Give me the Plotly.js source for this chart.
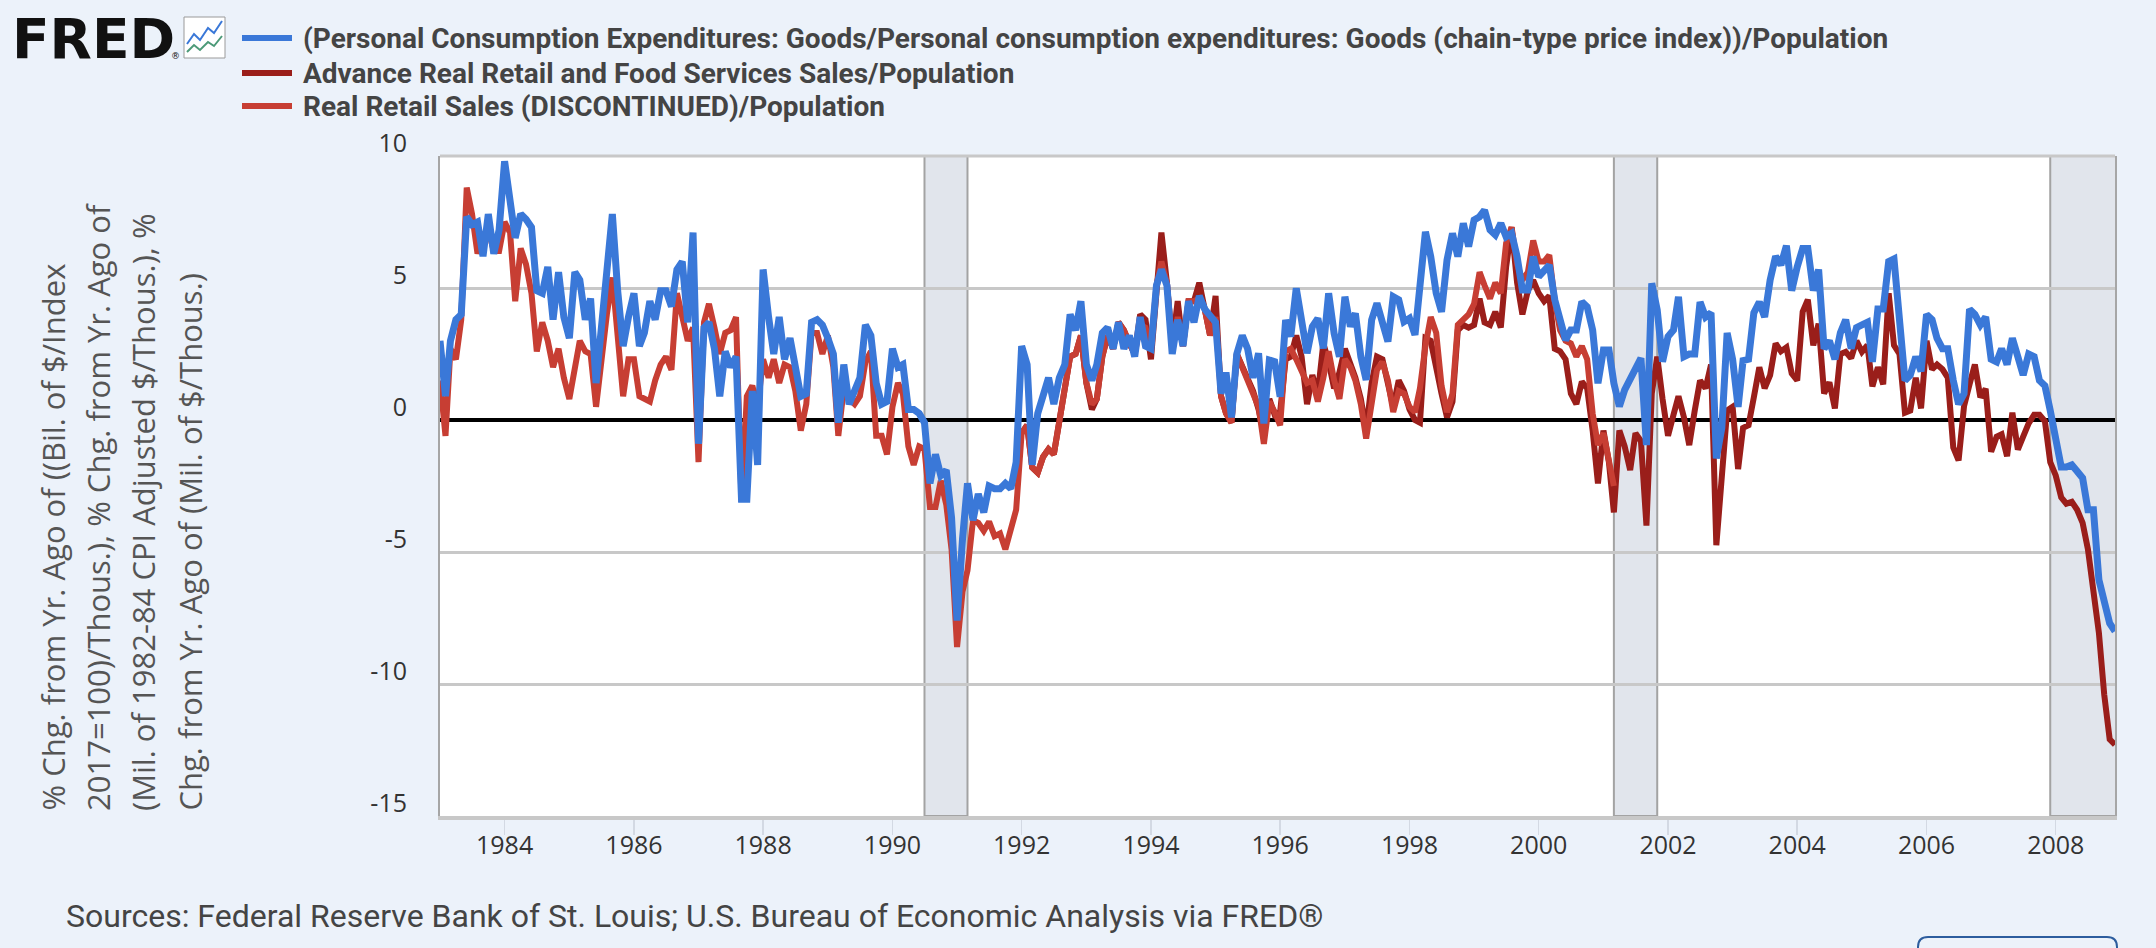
<!DOCTYPE html>
<html>
<head>
<meta charset="utf-8">
<script src="https://cdn.plot.ly/plotly-3.0.1.min.js"></script>
<style>
html,body{margin:0;padding:0;background:#ecf2fa;}
#chart{width:2156px;height:948px;}
</style>
</head>
<body>
<div id="chart"></div>
<script>
// ---- Data (monthly, % change from year ago) ----
const seriesNames = [
  "(Personal Consumption Expenditures: Goods/Personal consumption expenditures: Goods (chain-type price index))/Population",
  "Advance Real Retail and Food Services Sales/Population",
  "Real Retail Sales (DISCONTINUED)/Population"
];

// PCE Goods / price index / population, 1983-01 .. 2008-12
const pceGoods = [
  3.0, 0.9, 3.0, 3.8, 4.0, 7.7, 7.4, 7.5, 6.2, 7.8, 6.3, 7.2,          // 1983
  9.8, 8.5, 6.9, 7.8, 7.6, 7.3, 4.9, 4.8, 5.8, 3.8, 5.6, 3.9,          // 1984
  3.1, 5.6, 5.3, 3.8, 4.6, 1.4, 3.7, 5.8, 7.8, 4.9, 2.8, 3.9,          // 1985
  4.8, 2.8, 3.3, 4.5, 3.8, 4.9, 4.9, 4.3, 5.7, 6.0, 3.7, 7.1,          // 1986
  -0.9, 3.5, 3.7, 2.7, 0.9, 2.6, 2.0, 2.4, -3.0, -3.0, 1.1, -1.7,      // 1987
  5.7, 3.9, 2.5, 3.9, 2.3, 3.1, 2.0, 0.9, 1.0, 3.7, 3.8, 3.6,          // 1988
  3.1, 2.5, -0.1, 2.1, 0.6, 1.1, 1.6, 3.6, 3.2, 1.4, 0.6, 0.7,         // 1989
  2.7, 2.0, 2.1, 0.4, 0.4, 0.25, -0.1, -2.4, -1.3, -2.1, -1.9, -3.7,   // 1990
  -7.6, -4.5, -2.4, -3.8, -2.8, -3.5, -2.5, -2.6, -2.6, -2.4, -2.6, -1.6, // 1991
  2.8, 2.1, -1.7, 0.25, 0.9, 1.6, 0.6, 1.6, 2.1, 4.0, 3.4, 4.5,        // 1992
  2.1, 1.5, 2.1, 3.3, 3.5, 2.7, 3.7, 2.7, 3.2, 2.4, 3.9, 2.8,          // 1993
  2.7, 5.1, 5.7, 5.1, 2.5, 3.8, 2.8, 4.5, 3.7, 4.7, 4.2, 4.0,          // 1994
  3.7, 1.0, 1.8, 0.1, 2.5, 3.2, 2.7, 1.6, 2.53, -0.13, 2.27, 2.21,     // 1995
  0.88, 3.79, 3.16, 4.99, 3.79, 2.53, 3.54, 3.85, 2.71, 4.80, 3.28, 2.40, // 1996
  4.67, 3.54, 4.04, 2.40, 1.52, 3.79, 4.42, 3.66, 2.97, 4.67, 4.55, 3.72, // 1997
  3.85, 3.22, 5.18, 7.13, 6.19, 4.80, 4.10, 6.06, 7.07, 6.19, 7.45, 6.57, // 1998
  7.58, 7.70, 7.95, 7.20, 7.01, 7.45, 6.94, 7.07, 6.19, 4.92, 4.92, 6.19, // 1999
  5.43, 5.68, 5.87, 4.55, 3.79, 3.03, 3.41, 3.41, 4.48, 4.29, 3.41, 1.39, // 2000
  2.65, 2.65, 1.39, 0.51, 1.14, 1.52, 2.02, 2.34, -0.95, 5.18, 4.17, 2.21, // 2001
  3.16, 3.41, 4.67, 2.40, 2.50, 2.50, 4.47, 3.90, 4.06, -1.45, -0.3, 3.3, // 2002
  2.3, 0.5, 2.25, 2.3, 4.06, 4.47, 3.9, 5.3, 6.2, 5.87, 6.6, 4.9,      // 2003
  5.8, 6.5, 6.5, 4.9, 5.7, 2.7, 3.0, 2.3, 3.3, 3.8, 2.7, 3.5,          // 2004
  3.6, 3.7, 2.2, 4.2, 4.2, 6.0, 6.1, 3.65, 1.5, 1.7, 2.4, 1.84,        // 2005
  4.0, 3.8, 3.1, 2.7, 2.7, 1.5, 0.6, 1.0, 4.2, 4.0, 3.6, 3.9,          // 2006
  2.3, 2.2, 2.7, 2.1, 3.1, 2.4, 1.7, 2.5, 2.4, 1.5, 1.3, 0.36,         // 2007
  -0.8, -1.78, -1.78, -1.7, -1.94, -2.2, -3.4, -3.4, -6.05, -7.0, -7.7, -8.0 // 2008
];

// Advance Real Retail and Food Services Sales / population, 1992-01 .. 2008-12
const advRetail = [
  -0.5, -0.2, -1.8, -2.0, -1.4, -1.1, -1.3, 0.0, 1.1, 2.4, 2.5, 3.2,   // 1992
  1.4, 0.4, 0.8, 2.4, 3.2, 2.7, 3.7, 3.4, 2.9, 2.5, 4.0, 3.8,          // 1993
  2.3, 5.1, 7.1, 5.2, 2.8, 4.5, 2.8, 4.5, 4.5, 5.2, 4.2, 3.2,          // 1994
  4.7, 0.9, 0.25, -0.1, 2.5, 2.0, 1.6, 1.1, 0.4, -0.5, 0.8, 0.2,       // 1995
  0.3, 2.3, 2.4, 3.2, 2.4, 0.6, 1.7, 1.0, 2.9, 2.2, 1.2, 1.8,          // 1996
  2.7, 2.2, 1.6, 0.8, -0.4, 1.4, 2.4, 2.3, 1.3, 0.5, 1.5, 1.1,         // 1997
  0.4, 0.0, -0.1, 3.1, 3.0, 1.9, 1.0, 0.1, 0.7, 3.4, 3.6, 3.5,         // 1998
  3.6, 4.6, 3.7, 3.6, 4.1, 3.5, 5.8, 7.3, 5.2, 4.0, 4.9, 5.3,          // 1999
  4.8, 4.5, 4.7, 2.7, 2.6, 2.3, 1.0, 0.6, 1.45, 1.2, -0.4, -2.4,       // 2000
  -0.4, -1.6, -3.5, -0.4, -1.0, -1.9, -0.5, -0.8, -4.0, 1.0, 2.4, 0.8, // 2001
  -0.6, 0.2, 0.9, 0.1, -0.95, 0.36, 1.5, 1.2, 2.1, -4.74, -2.27, 0.36, // 2002
  0.5, -1.86, -0.3, -0.2, 0.86, 2.0, 1.2, 1.7, 2.9, 2.6, 2.75, 1.76,   // 2003
  1.5, 4.1, 4.56, 2.83, 3.65, 1.0, 1.43, 0.44, 2.5, 2.58, 2.34, 3.0,   // 2004
  2.58, 2.83, 1.27, 2.0, 1.35, 4.8, 2.83, 2.5, 0.28, 0.36, 1.6, 0.44,  // 2005
  3.0, 1.92, 2.1, 1.92, 1.6, -1.04, -1.53, 0.53, 1.35, 2.1, 0.86, 1.18, // 2006
  -1.2, -0.63, -0.54, -1.37, 0.28, -1.12, -0.63, -0.13, 0.2, 0.2, -0.05, -1.6, // 2007
  -2.1, -2.93, -3.17, -3.1, -3.4, -3.9, -4.9, -6.4, -8.06, -10.4, -12.1, -12.3 // 2008
];

// Real Retail Sales (DISCONTINUED) / population, 1983-01 .. 2001-03
const realRetail = [
  1.5, -0.6, 2.7, 2.3, 3.8, 8.8, 7.8, 6.3, 7.0, 7.2, 6.4, 6.4,         // 1983
  7.5, 7.1, 4.5, 6.5, 5.9, 4.8, 2.6, 3.7, 3.0, 2.0, 2.7, 1.6,          // 1984
  0.8, 1.9, 3.0, 2.6, 2.5, 0.5, 2.4, 4.0, 5.4, 3.4, 0.9, 2.3,          // 1985
  2.3, 0.9, 0.8, 0.7, 1.5, 2.1, 2.4, 1.9, 4.8, 3.8, 3.0, 3.5,          // 1986
  -1.6, 3.7, 4.4, 3.5, 2.5, 3.3, 3.4, 3.9, -3.1, 0.9, 1.3, 0.5,        // 1987
  2.3, 1.6, 2.3, 1.4, 2.1, 2.0, 1.1, -0.4, 0.6, 3.3, 3.3, 2.5,         // 1988
  3.2, 2.0, -0.6, 1.2, 0.8, 0.6, 0.9, 2.2, 2.6, -0.6, -0.6, -1.3,      // 1989
  0.5, 1.4, 1.0, -1.0, -1.7, -1.0, -1.1, -3.3, -3.3, -2.3, -3.2, -4.9, // 1990
  -8.6, -6.5, -5.7, -3.8, -3.9, -4.2, -3.85, -4.4, -4.3, -4.9, -4.2, -3.4, // 1991
  -0.5, -0.2, -1.8, -2.0, -1.4, -1.1, -1.3, 0.0, 1.1, 2.4, 2.5, 3.2,   // 1992
  1.4, 0.6, 0.8, 2.4, 3.2, 2.7, 3.7, 3.4, 2.9, 2.5, 3.6, 3.5,          // 1993
  2.8, 5.1, 6.0, 5.2, 2.8, 3.9, 2.8, 4.5, 4.5, 4.6, 4.2, 3.2,          // 1994
  3.9, 0.9, 0.25, -0.1, 2.5, 2.0, 1.6, 1.1, 0.5, -0.9, 0.7, 0.3,       // 1995
  -0.2, 2.6, 2.7, 2.3, 1.8, 1.4, 1.5, 0.7, 1.6, 2.6, 1.5, 0.8,         // 1996
  2.3, 2.0, 1.5, 0.6, -0.7, 0.5, 1.9, 2.2, 1.5, 0.3, 1.1, 1.0,         // 1997
  0.5, 0.3, 1.2, 2.8, 3.9, 3.3, 1.3, 0.3, 1.0, 3.6, 3.8, 4.0,          // 1998
  4.4, 5.6, 5.1, 4.6, 5.2, 4.8, 6.7, 7.3, 5.9, 5.3, 5.6, 6.8,          // 1999
  6.0, 6.0, 6.25, 4.5, 3.4, 3.0, 2.9, 2.4, 2.8, 2.3, 0.25, -0.95,      // 2000
  -0.5, -1.5, -2.5                                                     // 2001
];

const recessions = [["1990-07-01","1991-03-01"],["2001-03-01","2001-11-01"],["2007-12-01","2009-06-01"]];
const yTickVals = [-15, -10, -5, 0, 5, 10];
const yTickText = ["-15", "-10", "-5", "0", "5", "10"];
const yTitleLines = [
  "% Chg. from Yr. Ago of ((Bil. of $/Index",
  "2017=100)/Thous.), % Chg. from Yr. Ago of",
  "(Mil. of 1982-84 CPI Adjusted $/Thous.), %",
  "Chg. from Yr. Ago of (Mil. of $/Thous.)"
];
const sourceText = "Sources: Federal Reserve Bank of St. Louis; U.S. Bureau of Economic Analysis via FRED®";
const colors = {blue:"#3a78d8", dark:"#9a1e1a", light:"#c73e33"};

// ---- helpers ----
function monthDates(y, m, n){
  const out=[];
  for(let i=0;i<n;i++){
    const t=(m-1)+i; const yy=y+Math.floor(t/12); const mm=(t%12)+1;
    out.push(yy+"-"+(mm<10?"0":"")+mm+"-01");
  }
  return out;
}
const L=440,R=2115,T=156,B=816;
const px=x=>(x-L)/(R-L);
const py=y=>(B-y)/(B-T);

const traces = [
  {x:monthDates(1992,1,advRetail.length), y:advRetail, type:"scatter", mode:"lines",
   line:{color:colors.dark,width:6}, name:seriesNames[1], showlegend:false},
  {x:monthDates(1983,1,realRetail.length), y:realRetail, type:"scatter", mode:"lines",
   line:{color:colors.light,width:6}, name:seriesNames[2], showlegend:false},
  {x:monthDates(1983,1,pceGoods.length), y:pceGoods, type:"scatter", mode:"lines",
   line:{color:colors.blue,width:7}, name:seriesNames[0], showlegend:false}
];

const shapes = [];
recessions.forEach(r=>shapes.push({type:"rect",xref:"x",yref:"paper",x0:r[0],x1:r[1],y0:0,y1:1,
  fillcolor:"#e1e5ec",line:{color:"#a3a3a3",width:2},layer:"below"}));
// top border
shapes.push({type:"line",xref:"paper",yref:"paper",x0:0,x1:1,y0:1,y1:1,line:{color:"#c8c8c8",width:3},layer:"below"});
// legend swatches
const legY=[38,73,106], legC=[colors.blue,colors.dark,colors.light];
legY.forEach((y,i)=>shapes.push({type:"line",xref:"paper",yref:"paper",x0:px(242),x1:px(292),y0:py(y),y1:py(y),
  line:{color:legC[i],width:6}}));
// FRED icon
shapes.push({type:"rect",xref:"paper",yref:"paper",x0:px(184),x1:px(225),y0:py(17),y1:py(58),
  fillcolor:"#ffffff",line:{color:"#9a9a9a",width:1}});
function pth(pts){return "M"+pts.map(p=>px(p[0])+","+py(p[1])).join(" L");}
shapes.push({type:"path",xref:"paper",yref:"paper",path:pth([[187,44],[194,34],[200,40],[208,28],[214,33],[222,21]]),
  line:{color:"#3a78d8",width:2}});
shapes.push({type:"path",xref:"paper",yref:"paper",path:pth([[187,52],[194,45],[200,50],[208,42],[214,46],[222,36]]),
  line:{color:"#4c9a78",width:2}});
// bottom-right button (partially visible)
shapes.push({type:"path",xref:"paper",yref:"paper",
  path:"M"+px(1918)+","+py(960)+" L"+px(1918)+","+py(947)+" Q"+px(1918)+","+py(937)+" "+px(1928)+","+py(937)+
       " L"+px(2107)+","+py(937)+" Q"+px(2117)+","+py(937)+" "+px(2117)+","+py(947)+" L"+px(2117)+","+py(960),
  line:{color:"#2d5d9e",width:2}});

const annotations = [];
seriesNames.forEach((s,i)=>annotations.push({xref:"paper",yref:"paper",x:px(301),y:py(legY[i]),xanchor:"left",yanchor:"middle",
  text:s,showarrow:false,font:{family:"Roboto",size:28,color:"#444444",weight:700}}));
annotations.push({xref:"paper",yref:"paper",x:px(10),y:py(39),xanchor:"left",yanchor:"middle",text:"FRED",showarrow:false,
  font:{family:"DejaVu Sans",size:55,color:"#111111",weight:900}});
annotations.push({xref:"paper",yref:"paper",x:px(169),y:py(56),xanchor:"left",yanchor:"middle",text:"®",showarrow:false,
  font:{family:"DejaVu Sans",size:9,color:"#111111"}});
const yTitleX=[52,98,143,189];
yTitleLines.forEach((t,i)=>annotations.push({xref:"paper",yref:"paper",x:px(yTitleX[i]),y:py(813),xanchor:"center",yanchor:"bottom",
  textangle:-90,text:t,showarrow:false,font:{family:"Open Sans",size:31,color:"#555555"}}));
annotations.push({xref:"paper",yref:"paper",x:px(64),y:py(916),xanchor:"left",yanchor:"middle",text:sourceText,showarrow:false,
  font:{family:"Roboto",size:32,color:"#444444"}});
annotations.push({xref:"paper",yref:"paper",x:px(64),y:py(942),xanchor:"left",yanchor:"top",text:"Shaded areas indicate U.S. recessions.",showarrow:false,
  font:{family:"Roboto",size:32,color:"#444444"}});

const layout = {
  width:2156, height:948,
  paper_bgcolor:"#ecf2fa", plot_bgcolor:"#ffffff",
  margin:{l:L,r:2156-R,t:T,b:948-B,pad:0},
  showlegend:false,
  xaxis:{type:"date",range:["1983-01-01","2008-12-01"],tick0:"1984-01-01",dtick:"M24",tickformat:"%Y",
    ticks:"outside",ticklen:15,tickwidth:1.5,tickcolor:"#d3d9e3",showgrid:false,zeroline:false,
    showline:true,linecolor:"#c8c8c8",linewidth:4,ticklabelstandoff:-11,
    tickfont:{family:"Open Sans",size:25,color:"#333333"}},
  yaxis:{range:[-15,10],tickmode:"array",tickvals:yTickVals,ticktext:yTickText,showgrid:true,gridcolor:"#c8c8c8",gridwidth:3,
    zeroline:true,zerolinecolor:"#000000",zerolinewidth:4,
    showline:true,linecolor:"#a6a6a6",linewidth:2,mirror:true,
    ticks:"",ticklabelshift:-13,ticklabelstandoff:26,
    tickfont:{family:"Open Sans",size:25,color:"#333333"}},
  shapes:shapes, annotations:annotations
};

Plotly.newPlot("chart", traces, layout, {staticPlot:true, displayModeBar:false});
</script>
</body>
</html>
